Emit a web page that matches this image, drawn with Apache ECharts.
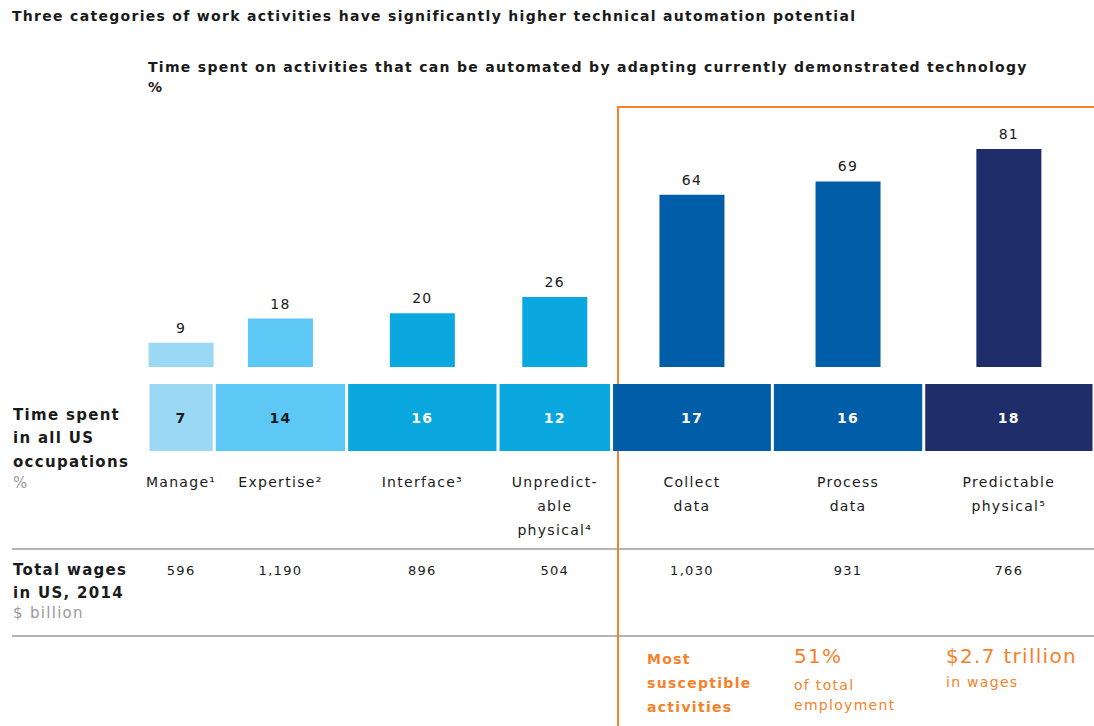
<!DOCTYPE html>
<html>
<head>
<meta charset="utf-8">
<script src="https://cdn.jsdelivr.net/npm/echarts@6/dist/echarts.min.js"></script>
<style>
  html, body { margin: 0; padding: 0; background: #fff; }
  #chart { width: 1094px; height: 726px; }
  /* the source typeface is tracked wide */
  #chart text { letter-spacing: 1.3px; }
</style>
</head>
<body>
<div id="chart"></div>
<script>
const categories = ['Manage¹', 'Expertise²', 'Interface³', 'Unpredict-\nable\nphysical⁴', 'Collect\ndata', 'Process\ndata', 'Predictable\nphysical⁵']
const automatable = [9, 18, 20, 26, 64, 69, 81]
const timeShare = [7, 14, 16, 12, 17, 16, 18]
const wages = ['596', '1,190', '896', '504', '1,030', '931', '766']

const palette = ['#9bd8f3', '#5dc8f5', '#0aa8de', '#0aa8de', '#005ea9', '#005ea9', '#1f2d6b']
const stripText = ['#1a1a1a', '#1a1a1a', '#fff', '#fff', '#fff', '#fff', '#fff']
const ORANGE = '#f5822a'
const FONT = '"DejaVu Sans", sans-serif'

// block spans along the 0-100 time share axis
const rows = []
let acc = 0
timeShare.forEach((v, i) => {
    rows.push([acc, acc + v, v, i])
    acc += v
})

const chart = echarts.init(document.getElementById('chart'), null, { renderer: 'svg' })

const hidden = { show: false }
const axisBase = { type: 'value', min: 0, max: 100, axisLine: hidden, axisTick: hidden, axisLabel: hidden, splitLine: hidden }

function text(x, y, str, opts) {
    return {
        type: 'text', left: x, top: y, silent: true,
        style: Object.assign({ text: str, fill: '#1a1a1a', font: '14px ' + FONT }, opts || {})
    }
}

chart.setOption({
    animation: false,
    grid: [
        { left: 148, right: -11, top: 98, height: 269 },
        { left: 148, right: -11, top: 384, height: 67 }
    ],
    xAxis: [
        Object.assign({ gridIndex: 0 }, axisBase),
        Object.assign({ gridIndex: 1 }, axisBase)
    ],
    yAxis: [
        Object.assign({ gridIndex: 0 }, axisBase),
        Object.assign({ gridIndex: 1 }, axisBase, { max: 1 })
    ],
    series: [
        {
            // automatable bars, centred in each block
            type: 'custom',
            xAxisIndex: 0,
            yAxisIndex: 0,
            clip: false,
            data: rows.map(r => [r[0], r[1], automatable[r[3]], r[3]]),
            renderItem: (params, api) => {
                const mid = (api.value(0) + api.value(1)) / 2
                const base = api.coord([mid, 0])
                const top = api.coord([mid, api.value(2)])
                const i = api.value(3)
                const w = 65
                return {
                    type: 'group',
                    children: [
                        {
                            type: 'rect',
                            shape: { x: base[0] - w / 2, y: top[1], width: w, height: base[1] - top[1] },
                            style: { fill: palette[i] }
                        },
                        {
                            type: 'text',
                            style: {
                                text: String(api.value(2)), x: base[0], y: top[1] - 8,
                                align: 'center', verticalAlign: 'bottom',
                                fill: '#1a1a1a', font: '14px ' + FONT
                            }
                        }
                    ]
                }
            }
        },
        {
            // time share strip, labels and wages below
            type: 'custom',
            xAxisIndex: 1,
            yAxisIndex: 1,
            clip: false,
            data: rows,
            renderItem: (params, api) => {
                const a = api.coord([api.value(0), 1])
                const b = api.coord([api.value(1), 0])
                const i = api.value(3)
                const cx = (a[0] + b[0]) / 2
                return {
                    type: 'group',
                    children: [
                        {
                            type: 'rect',
                            shape: { x: a[0] + 1.5, y: a[1], width: b[0] - a[0] - 3, height: b[1] - a[1] },
                            style: { fill: palette[i] }
                        },
                        {
                            type: 'text',
                            style: {
                                text: String(api.value(2)), x: cx, y: (a[1] + b[1]) / 2,
                                align: 'center', verticalAlign: 'middle',
                                fill: stripText[i], font: 'bold 14px ' + FONT
                            }
                        },
                        {
                            type: 'text',
                            style: {
                                text: categories[i], x: cx, y: 470,
                                align: 'center', verticalAlign: 'top',
                                fill: '#1a1a1a', font: '14px ' + FONT, lineHeight: 24
                            }
                        },
                        {
                            type: 'text',
                            style: {
                                text: wages[i], x: cx, y: 570,
                                align: 'center', verticalAlign: 'middle',
                                fill: '#1a1a1a', font: '13px ' + FONT
                            }
                        }
                    ]
                }
            }
        }
    ],
    graphic: [
        text(12, 9, 'Three categories of work activities have significantly higher technical automation potential', { font: 'bold 14px ' + FONT }),
        text(148, 60, 'Time spent on activities that can be automated by adapting currently demonstrated technology', { font: 'bold 14px ' + FONT }),
        text(148, 80, '%', { font: 'bold 14px ' + FONT }),

        text(13, 403, 'Time spent\nin all US\noccupations', { font: 'bold 15px ' + FONT, lineHeight: 23.5 }),
        text(13, 475, '%', { font: '15px ' + FONT, fill: '#999' }),

        text(13, 558, 'Total wages\nin US, 2014', { font: 'bold 15px ' + FONT, lineHeight: 23.5 }),
        text(13, 605, '$ billion', { font: '15px ' + FONT, fill: '#999' }),

        { type: 'line', silent: true, shape: { x1: 12, y1: 549, x2: 1094, y2: 549 }, style: { stroke: '#b5b5b5', lineWidth: 2 } },
        { type: 'line', silent: true, shape: { x1: 12, y1: 636, x2: 1094, y2: 636 }, style: { stroke: '#b5b5b5', lineWidth: 2 } },

        // highlight frame around the most susceptible activities
        { type: 'polyline', silent: true, shape: { points: [[618, 726], [618, 107], [1094, 107]] }, style: { stroke: ORANGE, lineWidth: 2, fill: null } },

        text(647, 647, 'Most\nsusceptible\nactivities', { font: 'bold 14px ' + FONT, fill: ORANGE, lineHeight: 24 }),
        text(794, 646, '51%', { font: '20px ' + FONT, fill: ORANGE }),
        text(794, 675, 'of total\nemployment', { font: '14px ' + FONT, fill: ORANGE, lineHeight: 20 }),
        text(946, 646, '$2.7 trillion', { font: '20px ' + FONT, fill: ORANGE }),
        text(946, 675, 'in wages', { font: '14px ' + FONT, fill: ORANGE })
    ]
})
</script>
</body>
</html>
